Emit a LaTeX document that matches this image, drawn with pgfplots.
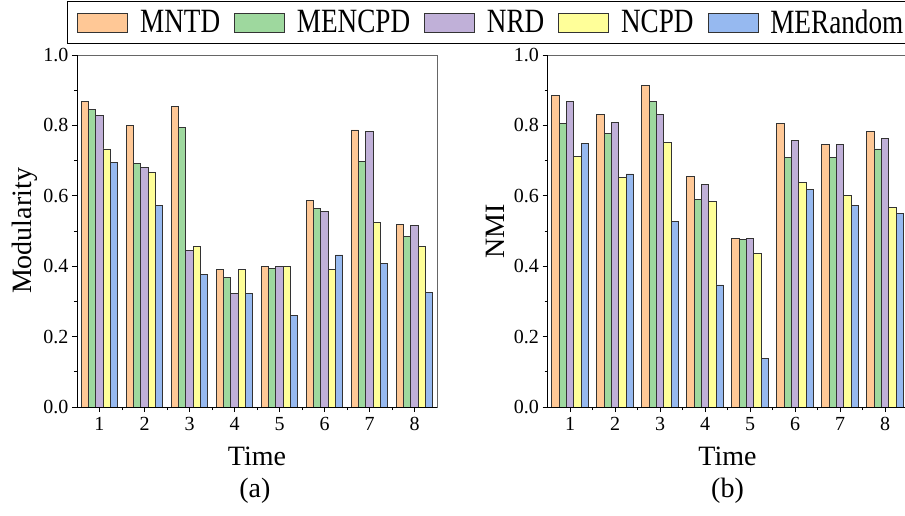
\documentclass[border=0pt]{standalone}
\usepackage{pgfplots}
\usepackage{pgfplotstable}
\pgfplotsset{compat=1.18}
\usepackage{fontspec}
\setmainfont{Liberation Serif}
\newfontfamily\legfont[FakeStretch=0.8]{Liberation Serif}

\definecolor{cA}{RGB}{255,200,150}
\definecolor{cB}{RGB}{158,216,158}
\definecolor{cC}{RGB}{192,176,216}
\definecolor{cD}{RGB}{255,255,153}
\definecolor{cE}{RGB}{150,185,240}

\pgfplotstableread{
x a b c d e
1 0.867 0.845 0.828 0.733 0.696
2 0.801 0.691 0.681 0.666 0.572
3 0.853 0.794 0.445 0.456 0.376
4 0.392 0.369 0.322 0.392 0.322
5 0.400 0.393 0.400 0.400 0.260
6 0.586 0.564 0.555 0.390 0.432
7 0.787 0.698 0.783 0.525 0.409
8 0.519 0.485 0.515 0.456 0.325
}\modtab

\pgfplotstableread{
x a b c d e
1 0.884 0.806 0.867 0.713 0.749
2 0.832 0.776 0.809 0.653 0.662
3 0.913 0.867 0.832 0.752 0.526
4 0.656 0.590 0.633 0.585 0.347
5 0.479 0.477 0.480 0.437 0.138
6 0.806 0.708 0.757 0.637 0.617
7 0.746 0.708 0.747 0.602 0.573
8 0.783 0.733 0.763 0.566 0.551
}\nmitab

\pgfplotsset{mystyle/.style={
  scale only axis, width=360pt, height=352pt,
  xmin=0.5, xmax=8.5, ymin=0, ymax=1,
  xtick={1,...,8}, minor x tick num=1,
  ytick={0,0.2,0.4,0.6,0.8,1.0}, minor y tick num=1,
  tick align=outside, xtick pos=bottom, ytick pos=left,
  major tick length=5pt, minor tick length=3pt,
  tick style={black, line width=0.8pt},
  axis line style={black!60, line width=0.8pt},
  clip=false,
  /pgf/number format/assume math mode=true,
  xticklabel={\pgfmathprintnumber[assume math mode=true]{\tick}},
  yticklabel={\pgfmathprintnumber[fixed,fixed zerofill,precision=1,assume math mode=true]{\tick}},
  xticklabel style={font=\fontsize{20}{22}\selectfont, yshift=-2pt},
  yticklabel style={font=\fontsize{20}{22}\selectfont},
  label style={font=\fontsize{28}{32}\selectfont},
  xlabel=Time,
  xlabel style={at={(0.5,-0.165)}, anchor=base},
  ylabel style={at={(-0.145,0.5)}, anchor=center},
  ybar, bar width=0.163,
  every axis plot/.append style={draw=black!80, line width=0.7pt},
}}

\begin{document}
\begin{tikzpicture}
\begin{axis}[mystyle, at={(77pt,108pt)}, anchor=south west,
  ylabel=Modularity,
  legend columns=5,
  legend style={at={(-0.0278,1.152)}, anchor=north west, draw=black, line width=0.8pt,
    font=\legfont\fontsize{34}{36}\selectfont,
    /tikz/every odd column/.append style={column sep=10pt},
    /tikz/every even column/.append style={column sep=12pt},
    inner xsep=10pt, inner ysep=6pt},
  legend image code/.code={\draw[#1] (0pt,-9.5pt) rectangle (50pt,9.5pt);},
]
\addplot[fill=cA, bar shift=-0.326] table[x=x,y=a]{\modtab};
\addplot[fill=cB, bar shift=-0.163] table[x=x,y=b]{\modtab};
\addplot[fill=cC, bar shift=0] table[x=x,y=c]{\modtab};
\addplot[fill=cD, bar shift=0.163] table[x=x,y=d]{\modtab};
\addplot[fill=cE, bar shift=0.326] table[x=x,y=e]{\modtab};
\legend{MNTD,MENCPD,NRD,NCPD,MERandom}
\draw[black, line width=0.8pt] (rel axis cs:0,1) -- (rel axis cs:0,0) -- (rel axis cs:1,0);
\node[font=\fontsize{28}{32}\selectfont, anchor=base] at (axis description cs:0.494,-0.258) {(a)};
\end{axis}
\begin{axis}[mystyle, at={(547.5pt,108pt)}, anchor=south west,
  ylabel=NMI,
]
\addplot[fill=cA, bar shift=-0.326] table[x=x,y=a]{\nmitab};
\addplot[fill=cB, bar shift=-0.163] table[x=x,y=b]{\nmitab};
\addplot[fill=cC, bar shift=0] table[x=x,y=c]{\nmitab};
\addplot[fill=cD, bar shift=0.163] table[x=x,y=d]{\nmitab};
\addplot[fill=cE, bar shift=0.326] table[x=x,y=e]{\nmitab};
\draw[black, line width=0.8pt] (rel axis cs:0,1) -- (rel axis cs:0,0) -- (rel axis cs:1,0);
\node[font=\fontsize{28}{32}\selectfont, anchor=base] at (axis description cs:0.5,-0.258) {(b)};
\end{axis}
\pgfresetboundingbox
\useasboundingbox (0,0) rectangle (905pt,515pt);
\end{tikzpicture}
\end{document}
